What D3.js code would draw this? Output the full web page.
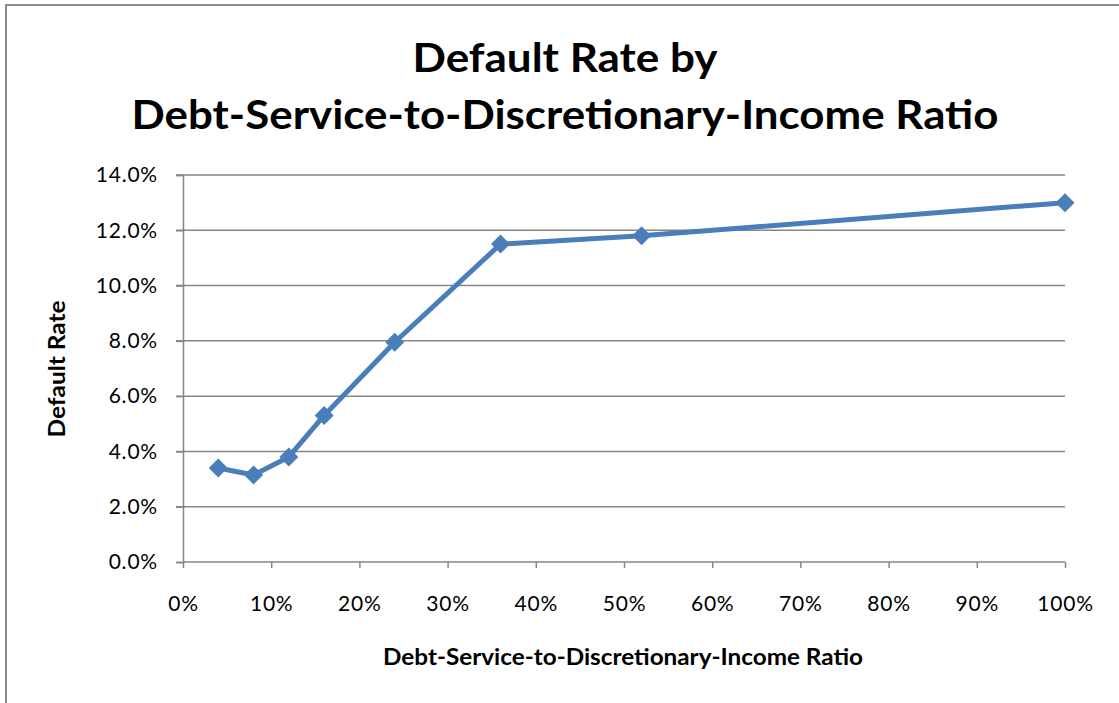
<!DOCTYPE html>
<html><head><meta charset="utf-8">
<script src="https://cdn.jsdelivr.net/npm/d3@7"></script>
<style>html,body{margin:0;padding:0;background:#fff;}svg{display:block;}</style>
</head><body>
<svg id="chart" width="1119" height="703"></svg>
<script>
const ratios = [0.04, 0.08, 0.12, 0.16, 0.24, 0.36, 0.52, 1.00];
const defaultRates = [0.034, 0.0315, 0.038, 0.053, 0.0795, 0.115, 0.118, 0.130];
const yTicks = [0, 0.02, 0.04, 0.06, 0.08, 0.10, 0.12, 0.14];
const xTicks = [0, 0.1, 0.2, 0.3, 0.4, 0.5, 0.6, 0.7, 0.8, 0.9, 1.0];
const titleLines = ["Default Rate by", "Debt-Service-to-Discretionary-Income Ratio"];
const xTitle = "Debt-Service-to-Discretionary-Income Ratio";
const yTitle = "Default Rate";

const font = "Lato, 'Open Sans', sans-serif";
const svg = d3.select("#chart");
svg.append("rect").attr("x", 6).attr("y", 5).attr("width", 1130).attr("height", 720)
  .attr("fill", "#fff").attr("stroke", "#8c8c8c").attr("stroke-width", 2);

const x = d3.scaleLinear().domain([0, 1]).range([183, 1065]);
const y = d3.scaleLinear().domain([0, 0.14]).range([562, 175]);

// gridlines
svg.append("g").selectAll("line").data(yTicks.slice(1)).join("line")
  .attr("x1", 176).attr("x2", 1065)
  .attr("y1", d => y(d)).attr("y2", d => y(d))
  .attr("stroke", "#868686").attr("stroke-width", 1.5);

// y axis
const yAxis = svg.append("g").attr("transform", "translate(183,0)")
  .call(d3.axisLeft(y).tickValues(yTicks).tickFormat(d3.format(".1%")).tickSize(7).tickPadding(18));
// x axis
const xAxis = svg.append("g").attr("transform", "translate(0,562)")
  .call(d3.axisBottom(x).tickValues(xTicks).tickFormat(d3.format(".0%")).tickSize(6).tickPadding(28));
[yAxis, xAxis].forEach(a => {
  a.select(".domain").attr("stroke", "#868686").attr("stroke-width", 1.5);
  a.selectAll(".tick line").attr("stroke", "#868686").attr("stroke-width", 1.5);
  a.selectAll("text").attr("font-family", font).attr("font-size", 21).attr("fill", "#000")
    .attr("letter-spacing", 0.8);
});
xAxis.select(".domain").attr("d", "M183,0H1065");

// line
const pts = ratios.map((r, i) => [r, defaultRates[i]]);
svg.append("path").datum(pts)
  .attr("d", d3.line().x(d => x(d[0])).y(d => y(d[1])))
  .attr("fill", "none").attr("stroke", "#4a7ebb").attr("stroke-width", 5)
  .attr("stroke-linejoin", "round");
svg.append("g").selectAll("path").data(pts).join("path")
  .attr("transform", d => `translate(${x(d[0])},${y(d[1])})`)
  .attr("d", "M0,-9.5L9.5,0L0,9.5L-9.5,0Z")
  .attr("fill", "#4a7ebb");

// titles
svg.append("text").attr("x", 565).attr("y", 72).attr("text-anchor", "middle")
  .attr("font-family", font).attr("font-weight", "bold").attr("font-size", 41)
  .attr("textLength", 305).attr("lengthAdjust", "spacingAndGlyphs")
  .text(titleLines[0]);
svg.append("text").attr("x", 565).attr("y", 129).attr("text-anchor", "middle")
  .attr("font-family", font).attr("font-weight", "bold").attr("font-size", 41)
  .attr("textLength", 867).attr("lengthAdjust", "spacingAndGlyphs")
  .text(titleLines[1]);
svg.append("text").attr("x", 623).attr("y", 665).attr("text-anchor", "middle")
  .attr("font-family", font).attr("font-weight", "bold").attr("font-size", 22)
  .attr("textLength", 480).attr("lengthAdjust", "spacingAndGlyphs")
  .text(xTitle);
svg.append("text").attr("transform", "translate(65,369) rotate(-90)").attr("text-anchor", "middle")
  .attr("font-family", font).attr("font-weight", "bold").attr("font-size", 22)
  .attr("textLength", 137).attr("lengthAdjust", "spacingAndGlyphs")
  .text(yTitle);
</script>
</body></html>
